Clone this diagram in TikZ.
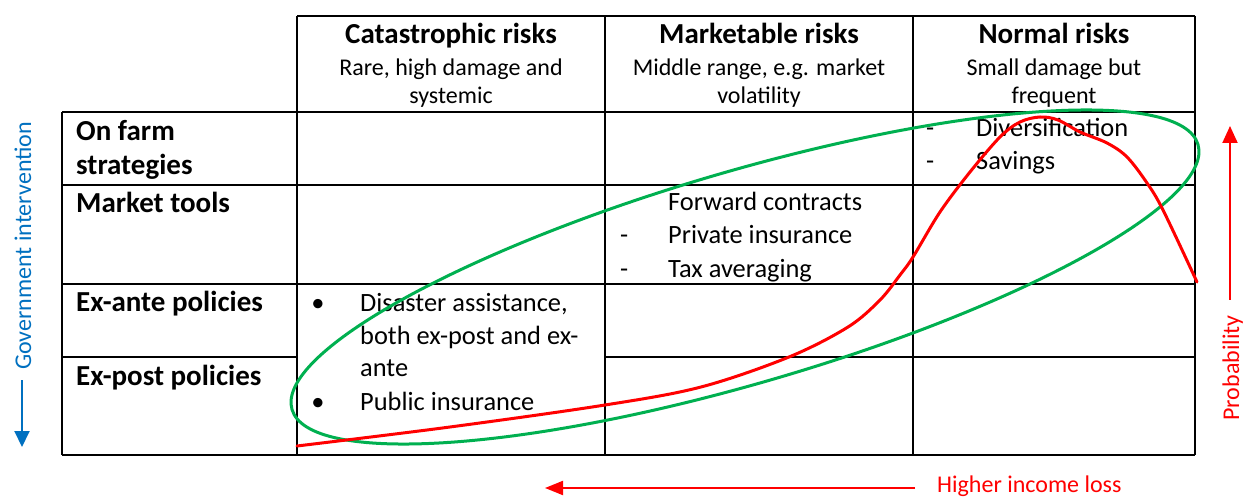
\documentclass[tikz,border=0pt]{standalone}
\usepackage{fontspec}
\setmainfont{Carlito}
\usetikzlibrary{arrows.meta}
\definecolor{wblue}{RGB}{0,112,192}
\definecolor{wgreen}{RGB}{0,176,80}
\definecolor{wred}{RGB}{255,0,0}
\tikzset{
  grid/.style={line width=1.8pt, black},
  head/.style={anchor=base, font=\bfseries\fontsize{29}{35}\selectfont, inner sep=0pt},
  sub/.style={anchor=base, font=\fontsize{24}{28}\selectfont, inner sep=0pt},
  rowlab/.style={anchor=base west, font=\bfseries\fontsize{29}{35}\selectfont, inner sep=0pt},
  body/.style={anchor=base west, font=\fontsize{26.4}{33}\selectfont, inner sep=0pt},
  bul/.style={anchor=base, font=\fontsize{26.4}{33}\selectfont, inner sep=0pt},
  side/.style={font=\fontsize{24}{28}\selectfont, inner sep=0pt},
}
\begin{document}
\begin{tikzpicture}[x=1pt,y=-1pt]
\useasboundingbox (0,0) rectangle (1243,497);
% table grid
\draw[grid] (297,16) -- (1195,16);
\draw[grid] (62,112) -- (1195,112);
\draw[grid] (62,185) -- (1195,185);
\draw[grid] (62,284) -- (1195,284);
\draw[grid] (62,357) -- (297,357);
\draw[grid] (605,357) -- (1195,357);
\draw[grid] (62,455) -- (1195,455);
\draw[grid] (62,112) -- (62,455);
\draw[grid] (297,16) -- (297,455);
\draw[grid] (605,16) -- (605,455);
\draw[grid] (913,16) -- (913,455);
\draw[grid] (1195,16) -- (1195,455);
% headers
\node[head] (h1) at (451,44) {Catastrophic risks};
\node[sub] (h1a) at (451,76) {Rare, high damage and};
\node[sub] (h1b) at (451,104) {systemic};
\node[head] (h2) at (759,44) {Marketable risks};
\node[sub] (h2a) at (759,76) {Middle range, e.g. market};
\node[sub] (h2b) at (759,104) {volatility};
\node[head] (h3) at (1054,44) {Normal risks};
\node[sub] (h3a) at (1054,76) {Small damage but};
\node[sub] (h3b) at (1054,104) {frequent};
% row labels
\node[rowlab] (r1a) at (76,141) {On farm};
\node[rowlab] (r1b) at (76,175) {strategies};
\node[rowlab] (r2) at (76,213) {Market tools};
\node[rowlab] (r3) at (76,312) {Ex-ante policies};
\node[rowlab] (r4) at (76,385) {Ex-post policies};
% cell texts
\node[body] (c22a) at (668,211) {Forward contracts};
\node[body] (d22b) at (620,244) {-};
\node[body] (c22b) at (668,244) {Private insurance};
\node[body] (d22c) at (620,277) {-};
\node[body] (c22c) at (668,277) {Tax averaging};
\node[body] (d31a) at (926,137) {-};
\node[body] (c31a) at (976,137) {Diversification};
\node[body] (d31b) at (926,170) {-};
\node[body] (c31b) at (976,170) {Savings};
\node[bul] (b1) at (318,312) {\textbullet};
\node[body] (c13a) at (360,312) {Disaster assistance,};
\node[body] (c13b) at (360,344) {both ex-post and ex-};
\node[body] (c13c) at (360,376) {ante};
\node[bul] (b2) at (318,410) {\textbullet};
\node[body] (c13d) at (360,410) {Public insurance};
% side labels
\node[side, text=wblue, rotate=90, anchor=base] (gov) at (31,246) {Government intervention};
\coordinate (govs) at (22,380);
\coordinate (gove) at (22,447);
\draw[wblue, line width=2pt, -{Triangle[width=15pt,length=16pt]}] (govs) -- (gove);
\node[side, text=wred, rotate=90, anchor=base] (prob) at (1239,368) {Probability};
\coordinate (probs) at (1230,300);
\coordinate (probe) at (1230,126);
\draw[wred, line width=2pt, -{Triangle[width=15pt,length=17pt]}] (probs) -- (probe);
\node[side, text=wred, anchor=base west] (loss) at (937,492) {Higher income loss};
\coordinate (losss) at (915,488);
\coordinate (losse) at (545,488);
\draw[wred, line width=2pt, -{Triangle[width=14pt,length=18pt]}] (losss) -- (losse);
% green ellipse
\draw[wgreen, line width=3pt, rotate around={16.3:(745,277)}] (745,277) ellipse [x radius=472pt, y radius=106pt];
% red curve
\draw[wred, line width=3pt, line cap=round] plot[smooth, tension=0.55] coordinates {(297,446) (450,427) (605,405) (701,387) (789,357) (848,327) (880,300) (900,275) (913,257) (940,212) (970,172) (1000,137) (1020,122) (1040,117) (1058,120) (1080,132) (1107,143) (1127,157) (1147,183) (1163,210) (1197,282)};
\end{tikzpicture}
\end{document}
